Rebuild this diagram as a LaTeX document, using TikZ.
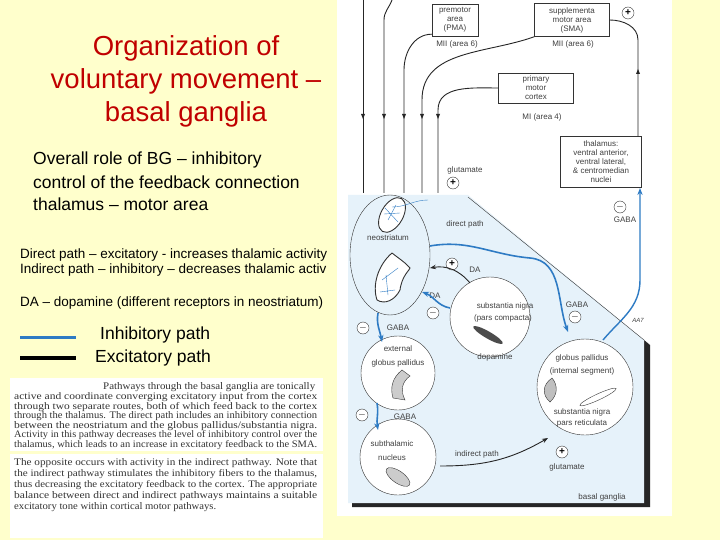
\documentclass[tikz,border=0pt]{standalone}
\usepackage{fontspec}
\setmainfont{Liberation Sans}
\newfontfamily\tbserif{Liberation Serif}
\usetikzlibrary{arrows.meta,shapes.geometric}
\definecolor{bgy}{HTML}{FFFFCC}
\definecolor{ttl}{HTML}{C00000}
\definecolor{pan}{HTML}{E6F2FA}
\definecolor{blu}{HTML}{2E7BC4}
\newcommand{\tbl}[1]{\resizebox{303pt}{7pt}{#1}}
\tikzset{
 lbl/.style={font=\fontsize{8}{8}\selectfont,text=black!75,inner sep=0pt},
 box/.style={draw=black!80,fill=white,font=\fontsize{8}{9}\selectfont,text=black!75,align=center,inner sep=1pt},
 sgn/.style={circle,draw=black!80,fill=white,minimum size=12pt,inner sep=0pt,font=\fontsize{10}{10}\selectfont\bfseries},
 reg/.style={circle,draw=black!80,fill=white,thin},
 exc/.style={draw=black!85,line width=0.9pt,-{Stealth[length=6pt]}},
 inh/.style={draw=blu,line width=1.6pt,-{Stealth[length=7pt]}},
 tb/.style={anchor=base west,inner sep=0pt,font=\tbserif\fontsize{9}{9}\selectfont,text=black!80},
 big/.style={anchor=west,inner sep=0pt,font=\fontsize{17.5}{20}\selectfont},
 sm/.style={anchor=west,inner sep=0pt,font=\fontsize{13.5}{15}\selectfont}
}
\begin{document}
\begin{tikzpicture}[x=1pt,y=-1pt]
\useasboundingbox (0,0) rectangle (720,540);
\fill[bgy] (0,0) rectangle (720,540);
% title
\node[font=\fontsize{27.5}{33}\selectfont,text=ttl,align=center] (title) at (186,81) {Organization of\\ voluntary movement --\\ basal ganglia};
\node[big] (t1) at (33,160) {Overall role of BG -- inhibitory};
\node[big] (t2) at (33,182) {control of the feedback connection};
\node[big] (t3) at (33,204) {thalamus -- motor area};
\node[sm] (d1) at (20,255) {Direct path -- excitatory - increases thalamic activity};
\node[sm] (d2) at (20,270) {Indirect path -- inhibitory -- decreases thalamic activ};
\node[sm] (d3) at (20,303) {DA -- dopamine (different receptors in neostriatum)};
\coordinate (lb1) at (20,337); \coordinate (lb2) at (76,337);
\draw[blu,line width=3pt] (lb1) -- (lb2);
\coordinate (lk1) at (20,358); \coordinate (lk2) at (76,358);
\draw[black,line width=4pt] (lk1) -- (lk2);
\node[big] (li) at (100,335) {Inhibitory path};
\node[big] (le) at (95,358) {Excitatory path};
% textbook boxes
\fill[white] (10,378) rectangle (323,451);
\fill[white] (10,454) rectangle (323,538);
\node[tb] (p0) at (103,389) {\resizebox{212pt}{7pt}{Pathways through the basal ganglia are tonically}};
\node[tb] (p1) at (14,399) {\tbl{active and coordinate converging excitatory input from the cortex}};
\node[tb] (p2) at (14,409) {\tbl{through two separate routes, both of which feed back to the cortex}};
\node[tb] (p3) at (14,418) {\tbl{through the thalamus. The direct path includes an inhibitory connection}};
\node[tb] (p4) at (14,428) {\tbl{between the neostriatum and the globus pallidus/substantia nigra.}};
\node[tb] (p5) at (14,437) {\tbl{Activity in this pathway decreases the level of inhibitory control over the}};
\node[tb] (p6) at (14,447) {\tbl{thalamus, which leads to an increase in excitatory feedback to the SMA.}};
\node[tb] (q1) at (14,465) {\tbl{The opposite occurs with activity in the indirect pathway. Note that}};
\node[tb] (q2) at (14,476) {\tbl{the indirect pathway stimulates the inhibitory fibers to the thalamus,}};
\node[tb] (q3) at (14,487) {\tbl{thus decreasing the excitatory feedback to the cortex. The appropriate}};
\node[tb] (q4) at (14,498) {\tbl{balance between direct and indirect pathways maintains a suitable}};
\node[tb] (q5) at (14,509) {\resizebox{202pt}{7pt}{excitatory tone within cortical motor pathways.}};
% right diagram
\fill[white] (337,0) rectangle (672,516);
\fill[black!85] (644,340) -- (650,345) -- (650,507) -- (352,507) -- (352,503) -- (644,503) -- cycle;
\fill[pan] (348,195) -- (468,195) -- (644,340) -- (644,503) -- (348,503) -- cycle;
\draw[black!80,thin] (468,197) -- (644,340);
% cortex boxes
\node[box,minimum width=46pt,minimum height=32pt] (pma) at (455,20) {premotor\\area\\(PMA)};
\node[box,minimum width=75pt,minimum height=33pt] (sma) at (572,20) {supplementa\\motor area\\(SMA)};
\node[box,minimum width=75pt,minimum height=30pt] (mi) at (536,88) {primary\\motor\\cortex};
\node[box,minimum width=81pt,minimum height=51pt] (thal) at (601,162) {thalamus:\\ventral anterior,\\ventral lateral,\\\& centromedian\\nuclei};
\node[lbl] (l1) at (457,44) {MII (area 6)};
\node[lbl] (l2) at (573,44) {MII (area 6)};
\node[lbl] (l3) at (542,117) {MI (area 4)};
\node[sgn] (sp1) at (628,13) {+};
\node[lbl] (glu1) at (465,170) {glutamate};
\node[sgn] (sp2) at (453,183) {+};
\node[sgn] (sm1) at (620,207) {$-$};
\node[lbl] (gaba1) at (625,220) {GABA};
% descending lines
\coordinate (a1) at (363,0); \coordinate (b1) at (363,193);
\coordinate (a2) at (392,0); \coordinate (b2) at (384,193);
\coordinate (b3) at (404,193); \coordinate (b4) at (422,193); \coordinate (b5) at (438,193);
\draw[black!85,line width=0.9pt] (a1) -- (b1);
\draw[black!85,line width=0.9pt] (a2) to[out=-110,in=90] (384,20) -- (b2);
\draw[black!85,line width=0.9pt] (pma.south west) ++(0,-2) to[out=180,in=90] (404,70) -- (b3);
\draw[black!85,line width=0.9pt] (sma.south west) to[out=200,in=90] (422,100) -- (b4);
\draw[black!85,line width=0.9pt] (mi.west) to[out=180,in=90] (438,110) -- (b5);
\foreach \x in {363,384,404,422,438}{\fill[black!85] (\x-2,114) -- (\x+2,114) -- (\x,119) -- cycle;}
% thalamus to SMA
\draw[black!85,line width=0.9pt] (thal.north -| 638,0) -- (638,40) to[out=90,in=0] (sma.east);
\fill[black!85] (636,74) -- (640,74) -- (638,69) -- cycle;
% neostriatum
\draw[black!80,thin] (390,255) ellipse (40pt and 60pt);
\draw[black!80,line width=0.9pt,fill=white,rotate around={-30:(392,215)}] (392,215) ellipse (11pt and 19pt);
\draw[blu,thin] (385,208) -- (398,222) (388,220) -- (396,205) (384,214) -- (400,213);
\draw[black!80,line width=0.9pt,fill=white] (392,253) .. controls (378,265) and (372,285) .. (377,300) .. controls (385,305) and (395,300) .. (400,290) .. controls (402,275) and (410,270) .. (410,268) .. controls (405,262) and (398,258) .. (392,253);
\draw[blu,thin] (382,280) -- (398,268) (380,292) -- (395,290) (386,275) -- (388,295);
\node[lbl] (neo) at (388,238) {neostriatum};
\node[lbl] (dp) at (465,224) {direct path};
\draw[blu,thin] (392,207) to[out=0,in=180] (428,200);
% substantia nigra pc
\node[reg,minimum size=80pt] (snc) at (490,317) {};
\node[lbl] (snc1) at (505,306) {substantia nigra};
\node[lbl] (snc2) at (503,318) {(pars compacta)};
\fill[black!70,rotate around={-30:(488,335)}] (488,335) ellipse (17pt and 3.5pt);
\node[lbl] (dop) at (495,357) {dopamine};
\node[sgn] (sp3) at (452,264) {+};
\node[lbl] (da1) at (475,270) {DA};
\node[lbl] (da2) at (435,296) {DA};
\node[sgn] (sm2) at (433,313) {$-$};
\draw[exc] (470,283) to[out=130,in=10] (430,268);
\draw[inh] (450,308) to[out=170,in=-20] (422,292);
% GPe
\node[reg,minimum size=74pt] (gpe) at (398,373) {};
\node[lbl] (gpe1) at (398,349) {external};
\node[lbl] (gpe2) at (398,363) {globus pallidus};
\draw[black!80,fill=black!20] (402,370) .. controls (392,378) and (390,388) .. (393,398) -- (405,400) .. controls (400,390) and (402,382) .. (410,376) -- cycle;
\node[sgn] (sm3) at (363,328) {$-$};
\node[lbl] (gaba2) at (398,328) {GABA};
\draw[inh] (378,313) to[out=-100,in=100] (382,342);
% STN
\node[reg,minimum size=76pt] (stn) at (398,457) {};
\node[lbl] (stn1) at (392,444) {subthalamic};
\node[lbl] (stn2) at (392,458) {nucleus};
\fill[black!20,rotate around={-35:(398,477)}] (398,477) ellipse (14pt and 6pt);
\draw[black!80,rotate around={-35:(398,477)}] (398,477) ellipse (14pt and 6pt);
\node[sgn] (sm4) at (362,415) {$-$};
\node[lbl] (gaba3) at (405,417) {GABA};
\draw[inh] (377,403) to[out=-80,in=100] (378,430);
% GPi
\node[reg,minimum size=96pt] (gpi) at (585,387) {};
\node[lbl] (gpi1) at (582,358) {globus pallidus};
\node[lbl] (gpi2) at (582,371) {(internal segment)};
\node[lbl] (gpi3) at (582,412) {substantia nigra};
\node[lbl] (gpi4) at (582,423) {pars reticulata};
\draw[black!80,fill=black!25] (552,378) .. controls (542,385) and (542,395) .. (550,402) .. controls (558,395) and (558,385) .. (552,378);
\draw[black!80,fill=white,rotate around={25:(598,397)}] (598,397) ellipse (20pt and 3pt);
\node[lbl] (gaba4) at (577,305) {GABA};
\node[sgn] (sm5) at (575,317) {$-$};
\node[lbl,font=\itshape\fontsize{6}{6}\selectfont] (aa) at (638,320) {AA7};
\node[lbl] (ip) at (477,454) {indirect path};
\node[sgn] (sp4) at (562,452) {+};
\node[lbl] (glu2) at (567,467) {glutamate};
\node[lbl] (bg) at (602,497) {basal ganglia};
% direct path blue
\draw[inh] (430,246) to[out=10,in=175] (530,258) to[out=-5,in=110] (568,332);
% GPi to thalamus
\draw[blu,line width=1.4pt,-{Stealth[length=7pt]}] (603,340) to[out=50,in=-90] (640,280) -- (640,188);
% indirect
\draw[exc] (440,466) to[out=0,in=210] (548,438);
\end{tikzpicture}
\end{document}
